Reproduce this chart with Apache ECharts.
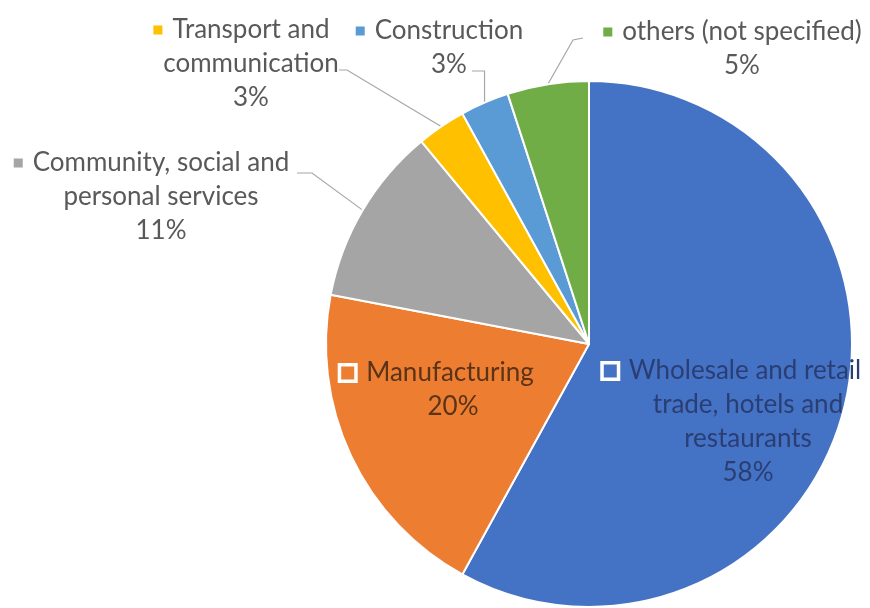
<!DOCTYPE html>
<html>
<head>
<meta charset="utf-8">
<script src="https://cdn.jsdelivr.net/npm/echarts@6/dist/echarts.min.js"></script>
<style>
  html, body { margin: 0; padding: 0; background: #ffffff; }
  #chart { width: 870px; height: 608px; }
</style>
</head>
<body>
<div id="chart"></div>
<script>
// Employment by sector (share of total, %)
const categories = [
  'Wholesale and retail trade, hotels and restaurants',
  'Manufacturing',
  'Community, social and personal services',
  'Transport and communication',
  'Construction',
  'others (not specified)'
];
const shares = [58, 20, 11, 3, 3, 5];
// How each category name is broken across lines in its label
const labelText = [
  ['Wholesale and retail', 'trade, hotels and', 'restaurants'],
  ['Manufacturing'],
  ['Community, social and', 'personal services'],
  ['Transport and', 'communication'],
  ['Construction'],
  ['others (not specified)']
];
const colors = ['#4472C4', '#ED7D31', '#A5A5A5', '#FFC000', '#5B9BD5', '#70AD47'];

// Label placement: block centre, and for outside labels the leader line's
// start (next to the text) and bend point; the end sits on the slice.
const PIE_CENTER = [589, 344];
const PIE_RADIUS = 263;
const labelPlace = [
  { x: 748, y: 422, inside: true, textColor: '#2a3e74' },
  { x: 453, y: 390, inside: true, textColor: '#5a3318' },
  { x: 161, y: 197, start: [297, 173], bend: [312, 173] },
  { x: 251, y: 64, start: [339, 70], bend: [347, 70] },
  { x: 449, y: 48, start: [472, 71], vertical: true },
  { x: 742, y: 49, start: [583, 38], bend: [573, 40] }
];

const FONT = 'Lato';
const FONT_SIZE = 26;
const LINE_H = 34;
const OUT_COLOR = '#595959';

const total = shares.reduce((a, b) => a + b, 0);
function sliceEdgePoint(i) {
  let cum = 0;
  for (let j = 0; j < i; j++) cum += shares[j];
  const a = (cum + shares[i] / 2) / total * Math.PI * 2;
  return [PIE_CENTER[0] + PIE_RADIUS * Math.sin(a), PIE_CENTER[1] - PIE_RADIUS * Math.cos(a)];
}

function buildLabel(i) {
  const place = labelPlace[i];
  const lines = labelText[i];
  const inside = !!place.inside;
  const markW = inside ? 13 : 9;
  const markTotal = inside ? 19 : 9;
  const gap = inside ? 12 : 10;
  const txtColor = inside ? place.textColor : OUT_COLOR;
  const txt = { fontFamily: FONT, fontSize: FONT_SIZE, color: txtColor, lineHeight: LINE_H };
  const rows = [];
  rows.push('{m|}{g|}{t|' + lines[0] + '}{s|}');
  for (let k = 1; k < lines.length; k++) rows.push('{t|' + lines[k] + '}');
  rows.push('{t|' + shares[i] + '%}');
  const marker = inside
    ? { width: markW, height: markW, backgroundColor: colors[i], borderColor: '#ffffff', borderWidth: 3.5, verticalAlign: 'middle', lineHeight: LINE_H }
    : { width: markW, height: markW, backgroundColor: colors[i], verticalAlign: 'middle', lineHeight: LINE_H };
  return {
    show: true,
    position: inside ? 'inside' : 'outside',
    formatter: rows.join('\n'),
    align: 'center',
    lineHeight: LINE_H,
    rich: {
      m: marker,
      g: { width: gap, lineHeight: LINE_H },
      s: { width: markTotal + gap, lineHeight: LINE_H },
      t: txt
    }
  };
}

const seriesData = categories.map((name, i) => ({
  name: name,
  value: shares[i],
  itemStyle: { color: colors[i] },
  label: buildLabel(i),
  labelLine: { show: !labelPlace[i].inside }
}));

const chart = echarts.init(document.getElementById('chart'), null, { renderer: 'canvas' });
chart.setOption({
  backgroundColor: '#ffffff',
  animation: false,
  series: [{
    type: 'pie',
    center: PIE_CENTER,
    radius: PIE_RADIUS,
    startAngle: 90,
    clockwise: true,
    avoidLabelOverlap: false,
    emphasis: { disabled: true },
    itemStyle: { borderColor: '#ffffff', borderWidth: 2 },
    labelLine: {
      show: true,
      lineStyle: { color: '#a6a6a6', width: 1.2 }
    },
    data: seriesData,
    labelLayout: function (params) {
      const i = params.dataIndex;
      const place = labelPlace[i];
      const out = { x: place.x, y: place.y, align: 'center', verticalAlign: 'middle' };
      if (!place.inside) {
        const edge = (params.labelLinePoints && params.labelLinePoints[0]) || sliceEdgePoint(i);
        const bend = place.vertical ? [edge[0], place.start[1]] : place.bend;
        out.labelLinePoints = [edge, bend, place.start];
      }
      return out;
    }
  }]
});
</script>
</body>
</html>
